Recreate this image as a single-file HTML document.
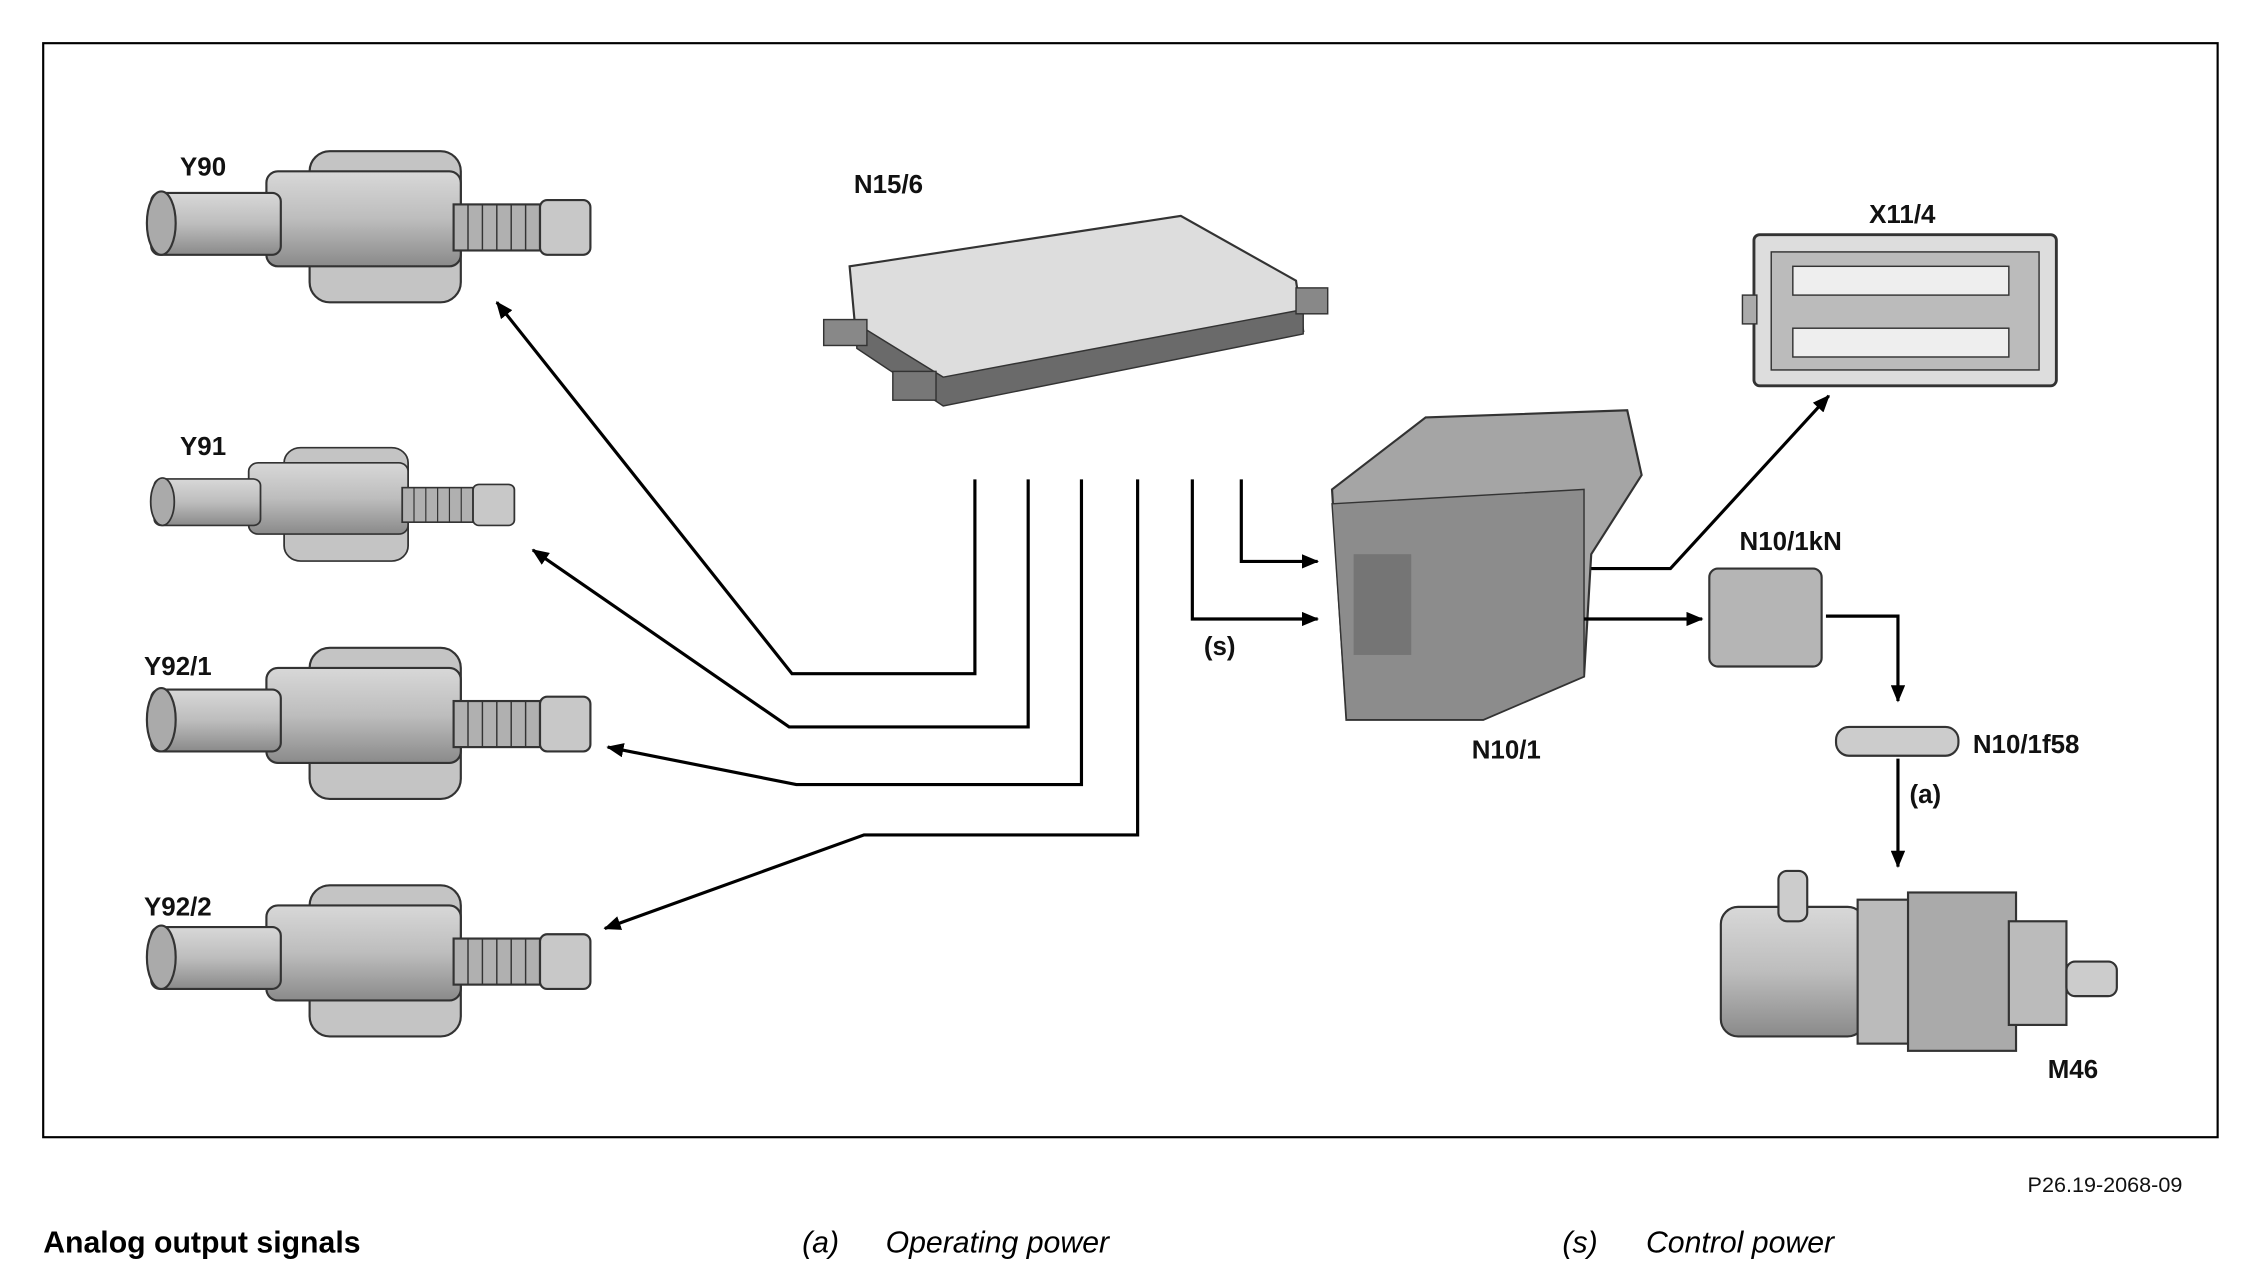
<!DOCTYPE html>
<html><head><style>
html,body{margin:0;padding:0;background:#fff;}
svg{display:block;}
text{font-family:"Liberation Sans",Arial,sans-serif;}
.l{font-weight:bold;font-size:18px;fill:#111;}
</style></head><body>
<svg width="2245" height="1261" viewBox="0 0 1559 876" preserveAspectRatio="none" xmlns="http://www.w3.org/2000/svg">
<defs>
<marker id="ar" markerWidth="12" markerHeight="10" refX="11" refY="5" orient="auto" markerUnits="userSpaceOnUse"><path d="M0,0 L12,5 L0,10 Z" fill="#000"/></marker>
<linearGradient id="g" x1="0" y1="0" x2="0" y2="1"><stop offset="0" stop-color="#d8d8d8"/><stop offset="0.5" stop-color="#bdbdbd"/><stop offset="1" stop-color="#8a8a8a"/></linearGradient>
<g id="sol">
<rect x="115" y="8" width="105" height="105" rx="14" fill="#c4c4c4" stroke="#333" stroke-width="1.5"/>
<rect x="85" y="22" width="135" height="66" rx="8" fill="url(#g)" stroke="#333" stroke-width="1.5"/>
<rect x="5" y="37" width="90" height="43" rx="6" fill="url(#g)" stroke="#333" stroke-width="1.5"/>
<ellipse cx="12" cy="58" rx="10" ry="22" fill="#aaa" stroke="#333" stroke-width="1.5"/>
<rect x="215" y="45" width="60" height="32" fill="#b0b0b0" stroke="#333" stroke-width="1.5"/>
<path d="M225,45v32M235,45v32M245,45v32M255,45v32M265,45v32" stroke="#333"/>
<rect x="275" y="42" width="35" height="38" rx="5" fill="#c8c8c8" stroke="#333" stroke-width="1.5"/>
</g>
</defs>
<rect x="30" y="30" width="1510" height="760" fill="none" stroke="#000" stroke-width="1.5"/>
<use href="#sol" transform="translate(100,97)"/>
<g transform="translate(103,320) scale(0.82,0.75)"><use href="#sol" transform="translate(0,-20)"/></g>
<use href="#sol" transform="translate(100,442)"/>
<use href="#sol" transform="translate(100,607)"/>
<!-- N15/6 -->
<path d="M590,185 L820,150 L900,195 L905,230 L655,280 L595,240 Z" fill="#ddd" stroke="#333" stroke-width="1.5"/>
<path d="M595,225 L655,262 L905,215 L905,232 L655,282 L595,242Z" fill="#6a6a6a" stroke="#333"/>
<rect x="572" y="222" width="30" height="18" fill="#888" stroke="#333"/>
<rect x="620" y="258" width="30" height="20" fill="#777" stroke="#333"/>
<rect x="900" y="200" width="22" height="18" fill="#888" stroke="#333"/>
<!-- N10/1 -->
<path d="M925,340 L990,290 L1130,285 L1140,330 L1105,385 L1100,470 L1030,500 L935,500 Z" fill="#a5a5a5" stroke="#333" stroke-width="1.5"/>
<path d="M925,350 L1100,340 L1100,470 L1030,500 L935,500Z" fill="#8c8c8c" stroke="#333"/>
<rect x="940" y="385" width="40" height="70" fill="#666" opacity="0.6"/>
<!-- X11/4 -->
<rect x="1218" y="163" width="210" height="105" rx="4" fill="#ddd" stroke="#333" stroke-width="2"/>
<rect x="1230" y="175" width="186" height="82" fill="#bbb" stroke="#333"/>
<g fill="#eee" stroke="#333">
<rect x="1245" y="185" width="150" height="20"/><rect x="1245" y="228" width="150" height="20"/>
</g>
<rect x="1210" y="205" width="10" height="20" fill="#aaa" stroke="#333"/>
<!-- relay -->
<rect x="1187" y="395" width="78" height="68" rx="6" fill="#b5b5b5" stroke="#333" stroke-width="1.5"/>
<!-- fuse -->
<rect x="1275" y="505" width="85" height="20" rx="9" fill="#ccc" stroke="#333" stroke-width="1.5"/>
<!-- M46 -->
<rect x="1195" y="630" width="100" height="90" rx="12" fill="url(#g)" stroke="#333" stroke-width="1.5"/>
<rect x="1290" y="625" width="40" height="100" fill="#bbb" stroke="#333" stroke-width="1.5"/>
<rect x="1325" y="620" width="75" height="110" fill="#aaa" stroke="#333" stroke-width="1.5"/>
<rect x="1395" y="640" width="40" height="72" fill="#bbb" stroke="#333" stroke-width="1.5"/>
<rect x="1435" y="668" width="35" height="24" rx="6" fill="#ccc" stroke="#333" stroke-width="1.5"/>
<rect x="1235" y="605" width="20" height="35" rx="6" fill="#ccc" stroke="#333" stroke-width="1.5"/>
<!-- connectors -->
<g fill="none" stroke="#000" stroke-width="2.2">
<path d="M677,333 V468 H550 L345,210" marker-end="url(#ar)"/>
<path d="M714,333 V505 H548 L370,382" marker-end="url(#ar)"/>
<path d="M751,333 V545 H553 L422,519" marker-end="url(#ar)"/>
<path d="M790,333 V580 H600 L420,645" marker-end="url(#ar)"/>
<path d="M828,333 V430 H915" marker-end="url(#ar)"/>
<path d="M862,333 V390 H915" marker-end="url(#ar)"/>
<path d="M1105,395 H1160 L1270,275" marker-end="url(#ar)"/>
<path d="M1100,430 H1182" marker-end="url(#ar)"/>
<path d="M1268,428 H1318 V487" marker-end="url(#ar)"/>
<path d="M1318,527 V602" marker-end="url(#ar)"/>
</g>
<text class="l" x="125" y="122">Y90</text>
<text class="l" x="125" y="316">Y91</text>
<text class="l" x="100" y="469">Y92/1</text>
<text class="l" x="100" y="636">Y92/2</text>
<text class="l" x="593" y="134">N15/6</text>
<text class="l" x="1298" y="155">X11/4</text>
<text class="l" x="1208" y="382">N10/1kN</text>
<text class="l" x="1022" y="527">N10/1</text>
<text class="l" x="1370" y="523">N10/1f58</text>
<text class="l" x="1326" y="558">(a)</text>
<text class="l" x="836" y="455">(s)</text>
<text class="l" x="1422" y="749">M46</text>
<text x="1408" y="828" font-size="15" fill="#111">P26.19-2068-09</text>
<text x="30" y="870" font-size="21" font-weight="bold" fill="#000">Analog output signals</text>
<text x="557" y="870" font-size="21" font-style="italic" fill="#000">(a)</text>
<text x="615" y="870" font-size="21" font-style="italic" fill="#000">Operating power</text>
<text x="1085" y="870" font-size="21" font-style="italic" fill="#000">(s)</text>
<text x="1143" y="870" font-size="21" font-style="italic" fill="#000">Control power</text>
</svg>
</body></html>
